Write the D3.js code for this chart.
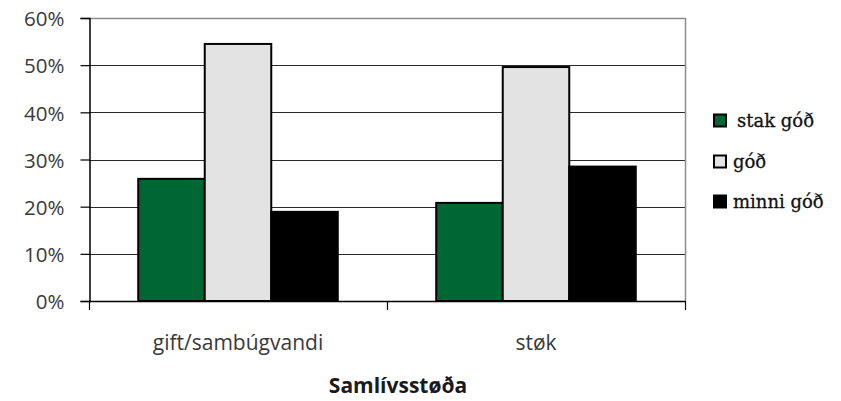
<!DOCTYPE html>
<html>
<head>
<meta charset="utf-8">
<script src="https://cdn.jsdelivr.net/npm/d3@7"></script>
<style>
  html, body { margin: 0; padding: 0; background: #fff; }
  svg { display: block; }
</style>
</head>
<body>
<svg id="chart" width="841" height="401"></svg>
<script>
// Samlívsstøða – share per answer category
const categories = ["gift/sambúgvandi", "støk"];
const seriesNames = ["stak góð", "góð", "minni góð"];
const stakGod = [0.259, 0.208];
const god = [0.545, 0.496];
const minniGod = [0.189, 0.285];
const yTicks = [0, 0.1, 0.2, 0.3, 0.4, 0.5, 0.6];
const xTitle = "Samlívsstøða";

const seriesValues = [stakGod, god, minniGod];
const colors = ["#006633", "#e3e3e3", "#000000"];

const svg = d3.select("#chart");
const plot = { left: 89, right: 685, top: 18, bottom: 301 };
const axisFont = "'Open Sans', 'Noto Sans', sans-serif";

const y = d3.scaleLinear().domain([0, 0.6]).range([plot.bottom, plot.top]);
const x0 = d3.scaleBand().domain(categories).range([plot.left, plot.right]).padding(0);
const x1 = d3.scaleBand().domain(seriesNames).range([0, x0.bandwidth()])
  .paddingInner(0).paddingOuter(0.74);

// gridlines
svg.append("g")
  .selectAll("line")
  .data(yTicks.slice(1))
  .join("line")
  .attr("x1", plot.left).attr("x2", plot.right)
  .attr("y1", d => Math.round(y(d)) + 0.5).attr("y2", d => Math.round(y(d)) + 0.5)
  .attr("stroke", d => d === 0.6 ? "#8c8c8c" : "#2a2a2a")
  .attr("stroke-width", d => d === 0.6 ? 1.5 : 1);

// right frame
svg.append("line")
  .attr("x1", plot.right + 0.5).attr("x2", plot.right + 0.5)
  .attr("y1", plot.top).attr("y2", plot.bottom)
  .attr("stroke", "#8c8c8c").attr("stroke-width", 1.5);

// bars
const groups = svg.append("g")
  .selectAll("g")
  .data(categories)
  .join("g")
  .attr("transform", d => `translate(${x0(d)},0)`);

groups.selectAll("rect")
  .data((c, i) => seriesNames.map((s, j) => ({ s, j, v: seriesValues[j][i] })))
  .join("rect")
  .attr("x", d => x1(d.s))
  .attr("y", d => y(d.v))
  .attr("width", x1.bandwidth())
  .attr("height", d => y(0) - y(d.v))
  .attr("fill", d => colors[d.j])
  .attr("stroke", "#000")
  .attr("stroke-width", 2);

// y axis
const yAxis = d3.axisLeft(y)
  .tickValues(yTicks)
  .tickFormat(d3.format(".0%"))
  .tickSize(9)
  .tickPadding(16);

const yg = svg.append("g")
  .attr("transform", `translate(${plot.left + 0.5},0)`)
  .call(yAxis);
yg.select(".domain").attr("stroke", "#000").attr("stroke-width", 1.5);
yg.selectAll(".tick line").attr("stroke", "#000").attr("stroke-width", 1.2);
yg.selectAll(".tick text")
  .attr("font-family", axisFont)
  .attr("font-size", 20.5)
  .attr("fill", "#3a3a3a")
  .attr("dy", "0.38em");

// x axis: ticks at category boundaries
svg.append("line")
  .attr("x1", plot.left).attr("x2", plot.right)
  .attr("y1", plot.bottom + 0.5).attr("y2", plot.bottom + 0.5)
  .attr("stroke", "#000").attr("stroke-width", 1.5);

const boundaries = categories.map(c => x0(c)).concat([x0(categories[categories.length - 1]) + x0.bandwidth()]);
svg.append("g")
  .selectAll("line")
  .data(boundaries)
  .join("line")
  .attr("x1", d => Math.round(d) + 0.5).attr("x2", d => Math.round(d) + 0.5)
  .attr("y1", plot.bottom).attr("y2", plot.bottom + 9)
  .attr("stroke", "#000").attr("stroke-width", 1.2);

svg.append("g")
  .selectAll("text")
  .data(categories)
  .join("text")
  .attr("x", d => x0(d) + x0.bandwidth() / 2)
  .attr("y", 350)
  .attr("text-anchor", "middle")
  .attr("font-family", axisFont)
  .attr("font-size", 21)
  .attr("fill", "#3a3a3a")
  .text(d => d);

svg.append("text")
  .attr("x", 398)
  .attr("y", 393)
  .attr("text-anchor", "middle")
  .attr("font-family", axisFont)
  .attr("font-size", 21)
  .attr("font-weight", "bold")
  .attr("fill", "#1a1a1a")
  .text(xTitle);

// legend
const legendRows = [120.5, 161.5, 201.5];
const legend = svg.append("g")
  .selectAll("g")
  .data(seriesNames)
  .join("g")
  .attr("transform", (d, i) => `translate(713,${legendRows[i]})`);

legend.append("rect")
  .attr("x", 1).attr("y", -6)
  .attr("width", 12).attr("height", 12)
  .attr("fill", (d, i) => colors[i])
  .attr("stroke", "#000").attr("stroke-width", 2);

legend.append("text")
  .attr("x", (d, i) => i === 0 ? 24 : 20)
  .attr("dy", "0.36em")
  .attr("font-family", "'DejaVu Serif', serif")
  .attr("font-size", 18)
  .attr("fill", "#111")
  .attr("stroke", "#111")
  .attr("stroke-width", 0.3)
  .text(d => d);
</script>
</body>
</html>
